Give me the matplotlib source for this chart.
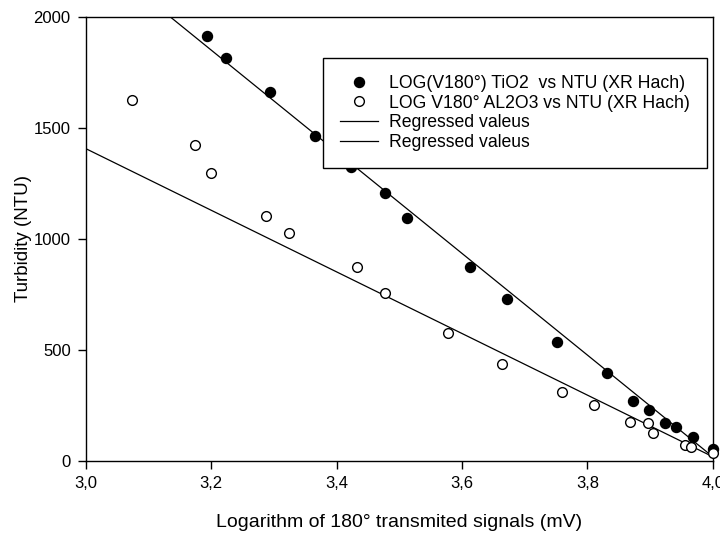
import matplotlib
matplotlib.use('Agg')
import matplotlib.pyplot as plt
from matplotlib.ticker import FixedLocator, FixedFormatter

plt.rcParams['font.family'] = ['Liberation Sans', 'DejaVu Sans']

# log of 180 deg transmitted signal vs turbidity
tio2_x = [3.193, 3.223, 3.294, 3.365, 3.423, 3.477, 3.512, 3.613, 3.671, 3.751,
          3.831, 3.873, 3.898, 3.924, 3.942, 3.969, 4.000]
tio2_y = [1913, 1812, 1659, 1463, 1321, 1206, 1095, 870, 726, 534,
          395, 269, 227, 170, 151, 105, 53]

al2o3_x = [3.073, 3.174, 3.199, 3.287, 3.324, 3.433, 3.477, 3.577, 3.663, 3.760,
           3.810, 3.868, 3.897, 3.904, 3.956, 3.966, 4.000]
al2o3_y = [1624, 1421, 1296, 1101, 1026, 873, 756, 573, 435, 309,
           251, 175, 170, 122, 70, 59, 35]

# regressed values at the ends of the range
reg_x = [3.0, 4.0]
tio2_reg = [2307, 17]
al2o3_reg = [1405, 17]

xticks = [3.0, 3.2, 3.4, 3.6, 3.8, 4.0]
xtick_labels = ['3,0', '3,2', '3,4', '3,6', '3,8', '4,0']
yticks = [0, 500, 1000, 1500, 2000]

fig = plt.figure(figsize=(7.2, 5.33), dpi=100)
ax = fig.add_axes([0.1194, 0.136, 0.8706, 0.8327])

ax.plot(tio2_x, tio2_y, 'o', color='black', markersize=7.2, linestyle='none',
        clip_on=False, zorder=3, label='LOG(V180°) TiO2  vs NTU (XR Hach)')
ax.plot(al2o3_x, al2o3_y, 'o', markerfacecolor='white', markeredgecolor='black',
        markeredgewidth=1.0, markersize=7, linestyle='none', clip_on=False, zorder=3,
        label='LOG V180° AL2O3 vs NTU (XR Hach)')
ax.plot(reg_x, tio2_reg, '-', color='black', linewidth=0.9, label='Regressed valeus')
ax.plot(reg_x, al2o3_reg, '-', color='black', linewidth=0.9, label='Regressed valeus')

ax.set_xlim(3.0, 4.0)
ax.set_ylim(0, 2000)
ax.xaxis.set_major_locator(FixedLocator(xticks))
ax.xaxis.set_major_formatter(FixedFormatter(xtick_labels))
ax.set_yticks(yticks)
ax.tick_params(direction='out', length=6, width=1, labelsize=12, pad=5)
for s in ax.spines.values():
    s.set_linewidth(1)

ax.set_xlabel('Logarithm of 180° transmited signals (mV)', fontsize=14, labelpad=17)
ax.set_ylabel('Turbidity (NTU)', fontsize=13.5, labelpad=1)

leg = ax.legend(loc='upper right', bbox_to_anchor=(0.99, 0.9066), fontsize=12.7,
                frameon=True, fancybox=False, edgecolor='black', framealpha=1,
                handlelength=2.2, handletextpad=0.6, labelspacing=0.15,
                borderpad=0.95, borderaxespad=0)
leg.get_frame().set_linewidth(1)

plt.savefig('out.png', dpi=100)
